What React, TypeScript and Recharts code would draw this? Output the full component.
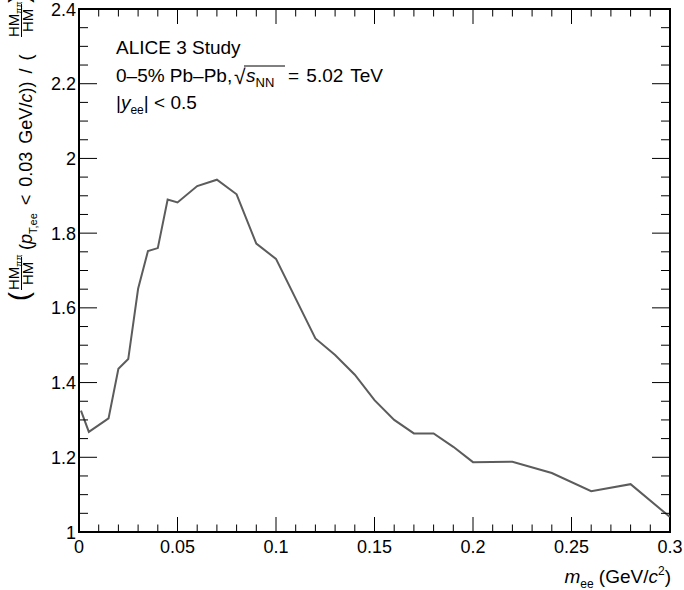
import React from 'react';
import { LineChart, Line, XAxis, YAxis, ReferenceArea } from 'recharts';

// m_ee (GeV/c^2) and the ratio
const massValues = [0.001, 0.005, 0.015, 0.02, 0.025, 0.03, 0.035, 0.04, 0.045, 0.05, 0.06, 0.07, 0.08, 0.09, 0.1, 0.12, 0.13, 0.14, 0.15, 0.16, 0.17, 0.18, 0.19, 0.2, 0.22, 0.24, 0.26, 0.28, 0.3];
const ratioValues = [1.325, 1.268, 1.304, 1.437, 1.463, 1.651, 1.752, 1.76, 1.89, 1.882, 1.926, 1.943, 1.904, 1.772, 1.731, 1.518, 1.474, 1.421, 1.353, 1.3, 1.264, 1.264, 1.228, 1.187, 1.188, 1.158, 1.109, 1.128, 1.04];

const xTicks = [0, 0.01, 0.02, 0.03, 0.04, 0.05, 0.06, 0.07, 0.08, 0.09, 0.1, 0.11, 0.12, 0.13, 0.14, 0.15, 0.16, 0.17, 0.18, 0.19, 0.2, 0.21, 0.22, 0.23, 0.24, 0.25, 0.26, 0.27, 0.28, 0.29, 0.3];
const xTickLabels = ['0', '0.05', '0.1', '0.15', '0.2', '0.25', '0.3'];
const yTicks = [1, 1.05, 1.1, 1.15, 1.2, 1.25, 1.3, 1.35, 1.4, 1.45, 1.5, 1.55, 1.6, 1.65, 1.7, 1.75, 1.8, 1.85, 1.9, 1.95, 2, 2.05, 2.1, 2.15, 2.2, 2.25, 2.3, 2.35, 2.4];
const yTickLabels = ['1', '1.2', '1.4', '1.6', '1.8', '2', '2.2', '2.4'];

const data = massValues.map((m, i) => ({ m, r: ratioValues[i] }));

const FONT = '"Liberation Sans", Arial, Helvetica, sans-serif';
const W = 684;
const H = 590;
const PLOT = { left: 79, right: 670, top: 9, bottom: 532 };

const XTick = (props: any) => {
  const { x, payload } = props;
  const idx = Math.round(payload.value * 100);
  const major = idx % 5 === 0;
  const len = major ? 15 : 7.5;
  return (
    <g>
      <line x1={x} x2={x} y1={PLOT.bottom} y2={PLOT.bottom - len} stroke="#000" />
      <line x1={x} x2={x} y1={PLOT.top} y2={PLOT.top + len} stroke="#000" />
      {major && (
        <text x={x} y={553} textAnchor="middle" fontSize={18} fontFamily={FONT} fill="#000">
          {xTickLabels[idx / 5]}
        </text>
      )}
    </g>
  );
};

const YTick = (props: any) => {
  const { y, payload } = props;
  const idx = Math.round((payload.value - 1) * 20);
  const major = idx % 4 === 0;
  const len = major ? 18 : 9;
  return (
    <g>
      <line x1={PLOT.left} x2={PLOT.left + len} y1={y} y2={y} stroke="#000" />
      <line x1={PLOT.right} x2={PLOT.right - len} y1={y} y2={y} stroke="#000" />
      {major && (
        <text x={76} y={y + 6.5} textAnchor="end" fontSize={18} fontFamily={FONT} fill="#000">
          {yTickLabels[idx / 4]}
        </text>
      )}
    </g>
  );
};

// HM_ππ / HM, drawn in the rotated frame of the y title
const Fraction = ({ start }: { start: number }) => (
  <g>
    <text x={start} y={19} fontSize={15} fontFamily={FONT}>
      HM<tspan fontSize={9} dy={3}>ππ</tspan>
    </text>
    <line x1={start} x2={start + 33} y1={21.5} y2={21.5} stroke="#000" strokeWidth={1} />
    <text x={start + 5} y={33} fontSize={15} fontFamily={FONT}>HM</text>
  </g>
);

const Overlay = () => (
  <svg width={W} height={H} style={{ position: 'absolute', left: 0, top: 0, pointerEvents: 'none' }}>
    {/* y-axis title, reads bottom to top */}
    <g transform="rotate(-90)">
      <text x={-301} y={28} fontSize={27} fontFamily={FONT}>(</text>
      <Fraction start={-290} />
      <text x={-250} y={32} fontSize={18} fontFamily={FONT} wordSpacing={3}>
        (<tspan fontStyle="italic">p</tspan>
        <tspan fontSize={11} dy={5}>T,ee</tspan>
        <tspan dy={-5}> &lt; 0.03 GeV/</tspan>
        <tspan fontStyle="italic">c</tspan>)) / (
      </text>
      <Fraction start={-37} />
      <text x={-3} y={28} fontSize={27} fontFamily={FONT}>)</text>
    </g>

    {/* x-axis title */}
    <text x={671} y={583} textAnchor="end" fontSize={19} fontFamily={FONT}>
      <tspan fontStyle="italic">m</tspan>
      <tspan fontSize={12} dy={5}>ee</tspan>
      <tspan dy={-5}> (GeV/</tspan>
      <tspan fontStyle="italic">c</tspan>
      <tspan fontSize={12} dy={-8}>2</tspan>
      <tspan dy={8}>)</tspan>
    </text>

    {/* legend block */}
    <text x={116} y={54} fontSize={19} fontFamily={FONT}>ALICE 3 Study</text>
    <text x={116} y={82} fontSize={19} fontFamily={FONT}>0–5% Pb–Pb,</text>
    <text x={234} y={84} fontSize={21} fontFamily={FONT}>√</text>
    <line x1={244} x2={285} y1={66} y2={66} stroke="#000" strokeWidth={1} />
    <text x={246} y={82} fontSize={19} fontFamily={FONT}>
      <tspan fontStyle="italic">s</tspan>
      <tspan fontSize={13} dy={5}>NN</tspan>
    </text>
    <text x={288} y={82} fontSize={19} fontFamily={FONT} wordSpacing={2}>= 5.02 TeV</text>
    <text x={116} y={109} fontSize={19} fontFamily={FONT}>
      |<tspan fontStyle="italic">y</tspan>
      <tspan fontSize={12} dy={5}>ee</tspan>
      <tspan dy={-5}>| &lt; 0.5</tspan>
    </text>
  </svg>
);

export default function App() {
  return (
    <div style={{ position: 'absolute', left: 0, top: 0, width: W, height: H, background: '#fff' }}>
      <LineChart width={W} height={H} data={data} margin={{ top: PLOT.top, right: W - PLOT.right, bottom: 0, left: 0 }}>
        <XAxis
          dataKey="m"
          type="number"
          domain={[0, 0.3]}
          ticks={xTicks}
          interval={0}
          height={H - PLOT.bottom}
          tickSize={0}
          tickLine={false}
          tick={<XTick />}
          axisLine={{ stroke: '#000', strokeWidth: 2 }}
          allowDataOverflow
        />
        <YAxis
          type="number"
          domain={[1, 2.4]}
          ticks={yTicks}
          interval={0}
          width={PLOT.left}
          tickSize={0}
          tickLine={false}
          tick={<YTick />}
          axisLine={{ stroke: '#000', strokeWidth: 2 }}
          allowDataOverflow
        />
        <ReferenceArea x1={0} x2={0.3} y1={1} y2={2.4} fill="none" stroke="#000" strokeWidth={2} ifOverflow="visible" />
        <Line
          type="linear"
          dataKey="r"
          stroke="#5c5c5c"
          strokeWidth={2}
          dot={false}
          isAnimationActive={false}
        />
      </LineChart>
      <Overlay />
    </div>
  );
}
